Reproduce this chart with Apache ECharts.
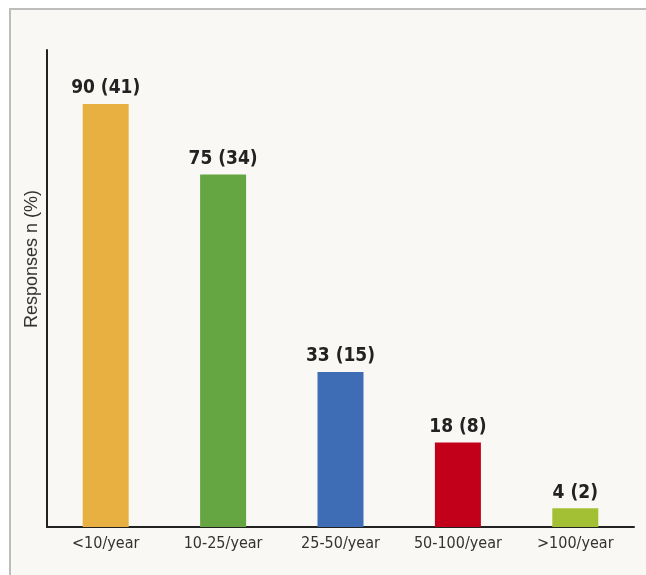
<!DOCTYPE html>
<html>
<head>
<meta charset="utf-8">
<script src="https://cdn.jsdelivr.net/npm/echarts@6/dist/echarts.min.js"></script>
<style>
html,body{margin:0;padding:0;background:#ffffff;}
#panel{position:absolute;left:9px;top:8px;width:700px;height:700px;background:#f9f8f4;border-left:2px solid #bdbdbd;border-top:2px solid #bdbdbd;}
#chart{position:absolute;left:0;top:0;width:646px;height:575px;}
</style>
</head>
<body>
<div id="panel"></div>
<div id="chart"></div>
<script>
var categories = ['<10/year', '10-25/year', '25-50/year', '50-100/year', '>100/year'];
var responses = [90, 75, 33, 18, 4];
var percents = [41, 34, 15, 8, 2];
var barColors = ['#E8B040', '#66A642', '#3F6DB5', '#C3001A', '#A3C035'];
var yTitle = 'Responses n (%)';

var chart = echarts.init(document.getElementById('chart'), null, {renderer: 'canvas'});
var data = responses.map(function (v, i) {
  return {value: v, itemStyle: {color: barColors[i]}};
});
chart.setOption({
  backgroundColor: 'transparent',
  animation: false,
  grid: {left: 47, right: 12, top: 50, bottom: 48},
  xAxis: {
    type: 'category',
    data: categories,
    axisLine: {lineStyle: {color: '#222', width: 2}},
    axisTick: {alignWithLabel: true, length: 6, lineStyle: {color: '#222', width: 1.5}},
    axisLabel: {color: '#333', fontSize: 16, margin: 9, fontFamily: 'DejaVu Sans Condensed, sans-serif'}
  },
  yAxis: {
    type: 'value',
    min: 0,
    max: 101.5,
    axisLine: {show: true, lineStyle: {color: '#222', width: 2}},
    axisTick: {show: false},
    axisLabel: {show: false},
    splitLine: {show: false}
  },
  graphic: [{
    type: 'text',
    left: 23,
    top: 190,
    rotation: Math.PI / 2,
    style: {text: yTitle, fill: '#333', font: '18px "Liberation Sans", Arial, sans-serif'}
  }],
  series: [{
    type: 'bar',
    data: data,
    barWidth: 46,
    label: {
      show: true,
      position: 'top',
      distance: 6,
      color: '#222',
      fontSize: 19,
      fontWeight: 'bold',
      fontFamily: 'DejaVu Sans Condensed, sans-serif',
      formatter: function (p) { return p.value + ' (' + percents[p.dataIndex] + ')'; }
    }
  }]
});
</script>
</body>
</html>
